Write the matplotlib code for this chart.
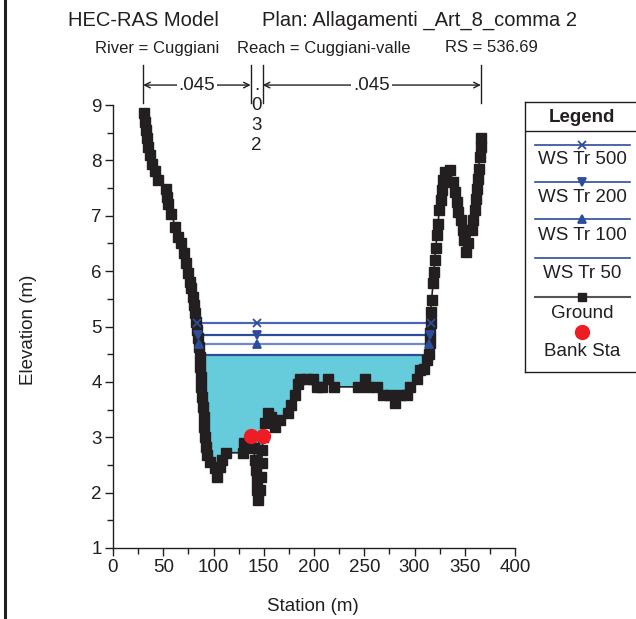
import numpy as np
import matplotlib
matplotlib.use("Agg")
import matplotlib.pyplot as plt
from matplotlib.lines import Line2D

plt.rcParams["font.family"] = ["Liberation Sans", "DejaVu Sans"]

# Ground profile (station m, elevation m)
station = [31, 32, 33, 33.5, 34.5, 37, 39, 42, 44.5, 53, 54, 55, 58, 62, 65, 68, 71, 72.5,
           74.5, 76.5, 78, 80, 81, 82, 83, 84, 85, 86, 86.5, 87, 87.5, 88, 88.5, 89.5,
           90.5, 91, 91.5, 92.5, 94, 96.5, 101, 103, 106.5, 108, 112, 129.5, 130.5, 136,
           140, 141, 142, 143, 143.5, 144.5, 146, 147, 148, 148.5, 149.5, 151, 154.5,
           157.5, 161, 166, 174, 177.5, 181, 184, 186.5, 193, 199.5, 202.5, 207.5,
           214, 220, 244, 251, 254, 262.5, 269, 275.5, 281, 286, 292.5, 295.5, 302,
           305.5, 309, 312, 314, 315, 315.5, 316, 316, 317, 318.5, 319.5, 320, 321,
           322.5, 323.5, 324.5, 326, 327, 328.5, 330, 335, 338.5, 340, 342, 343.5, 346,
           348, 349.5, 351, 353.5, 357, 358.5, 360, 361, 362, 363, 364, 365, 366, 366]
elevation = [8.86, 8.70, 8.55, 8.40, 8.24, 8.09, 7.94, 7.80, 7.65, 7.49, 7.34, 7.22, 7.04,
             6.80, 6.62, 6.50, 6.32, 6.14, 5.96, 5.81, 5.69, 5.54, 5.39, 5.24, 5.08, 4.93,
             4.79, 4.63, 4.45, 4.27, 4.09, 3.91, 3.73, 3.55, 3.37, 3.19, 3.01, 2.83, 2.68,
             2.56, 2.44, 2.29, 2.47, 2.59, 2.72, 2.72, 2.89, 2.89, 2.80, 2.59, 2.41, 2.23,
             2.05, 1.87, 2.05, 2.29, 2.53, 2.77, 3.01, 3.25, 3.43, 3.37, 3.19, 3.31, 3.43,
             3.58, 3.76, 3.97, 4.06, 4.06, 4.06, 3.91, 3.91, 4.06, 3.91, 3.91, 4.06, 3.91,
             3.91, 3.76, 3.76, 3.61, 3.76, 3.76, 3.91, 4.06, 4.21, 4.24, 4.39, 4.51, 4.70,
             4.88, 5.06, 5.27, 5.48, 5.78, 5.99, 6.20, 6.41, 6.65, 6.86, 7.10, 7.28, 7.46,
             7.64, 7.79, 7.82, 7.61, 7.43, 7.25, 7.07, 6.92, 6.74, 6.56, 6.35, 6.50, 6.74,
             6.92, 7.10, 7.31, 7.49, 7.67, 7.85, 8.06, 8.24, 8.40]

# Water surfaces
ws_names = ["WS Tr 500", "WS Tr 200", "WS Tr 100", "WS Tr 50"]
ws_elev = [5.06, 4.85, 4.68, 4.48]
ws_markers = ["x", "v", "^", None]
ws_colors = ["#4A66B4", "#2C4C9C", "#6F88C8", "#2C4C9C"]

# Bank stations
bank_sta = [137, 149]
bank_elev = [3.02, 3.02]

# Manning's n regions
n_values = [".045", ".032", ".045"]

sta = np.array(station, dtype=float)
elev = np.array(elevation, dtype=float)


def crossings(level):
    xs = []
    for i in range(len(sta) - 1):
        y0, y1 = elev[i] - level, elev[i + 1] - level
        if y0 == 0:
            xs.append(sta[i])
        elif y0 * y1 < 0:
            xs.append(sta[i] + (sta[i + 1] - sta[i]) * y0 / (y0 - y1))
    return min(xs), max(xs)


fig = plt.figure(figsize=(6.36, 6.19), dpi=100)
W, H = 636.0, 619.0
ax = fig.add_axes([113 / W, 1 - 548 / H, 402 / W, 443 / H])

ink = "#231F20"

# water fill for lowest profile
ax.fill_between(sta, elev, ws_elev[-1], where=elev <= ws_elev[-1], interpolate=True,
                color="#66CCDB", lw=0, zorder=1)

mid = np.mean(bank_sta)
for name, z, m, c in zip(ws_names, ws_elev, ws_markers, ws_colors):
    xl, xr = crossings(z)
    ax.plot([xl, mid, xr], [z, z, z], color=c, lw=1.6, zorder=2)

ax.plot(sta, elev, color=ink, lw=1.2, marker="s", ms=6.8, mec=ink, mfc=ink, zorder=3)

for name, z, m, c in zip(ws_names, ws_elev, ws_markers, ws_colors):
    if m is None:
        continue
    xl, xr = crossings(z)
    ax.plot([xl, mid, xr], [z, z, z], ls="none", marker=m, ms=6, color="#2C4C9C",
            mew=1.3, zorder=4)

ax.plot(bank_sta, bank_elev, ls="none", marker="o", ms=10, color="#EE1C24", zorder=5)

ax.set_xlim(0, 400)
ax.set_ylim(1, 9)
ax.set_xticks(np.arange(0, 401, 50))
ax.set_xticks(np.arange(25, 400, 50), minor=True)
ax.set_yticks(np.arange(1, 10, 1))
ax.set_yticks(np.arange(1.5, 9, 1), minor=True)
ax.tick_params(which="major", direction="out", length=6, width=1, color=ink,
               labelsize=13.5, labelcolor=ink, pad=2)
ax.tick_params(which="minor", direction="out", length=4, width=1, color=ink)
for s in ["top", "right"]:
    ax.spines[s].set_visible(False)
for s in ["left", "bottom"]:
    ax.spines[s].set_color(ink)
    ax.spines[s].set_linewidth(1)

ax.set_xlabel("Station (m)", fontsize=13.5, color=ink)
ax.xaxis.set_label_coords(0.4975, -0.112)
ax.set_ylabel("Elevation (m)", fontsize=13.5, color=ink)
ax.yaxis.set_label_coords(-0.19, 0.492)

# Manning's n brackets above the plot
tr = ax.get_xaxis_transform()
edges = [station[0] - 1, bank_sta[0], bank_sta[1], station[-1]]
for x in edges:
    ax.plot([x, x], [1.005, 1.09], color=ink, lw=1, transform=tr, clip_on=False)
for (x0, x1), n in zip([(edges[0], edges[1]), (edges[2], edges[3])], [n_values[0], n_values[2]]):
    ax.annotate("", xy=(x0, 1.045), xytext=(x1, 1.045), xycoords=tr, textcoords=tr,
                arrowprops=dict(arrowstyle="<->", color=ink, lw=1, shrinkA=0, shrinkB=0))
    ax.text((x0 + x1) / 2, 1.045, n, transform=tr, ha="center", va="center",
            fontsize=13.5, color=ink, bbox=dict(fc="white", ec="none", pad=1.5))
for ch, ypx in zip(n_values[1], [86, 106, 125, 145]):
    ax.text(mid, (548 - ypx) / 443, ch, transform=tr, ha="center", va="center",
            fontsize=13.5, color=ink)

# titles
fig.text(68 / W, 1 - 20 / H, "HEC-RAS Model", fontsize=14.5, color=ink, va="center")
fig.text(262 / W, 1 - 20 / H, "Plan: Allagamenti _Art_8_comma 2", fontsize=14.5,
         color=ink, va="center")
fig.text(95 / W, 1 - 48 / H, "River = Cuggiani", fontsize=12, color=ink, va="center")
fig.text(237 / W, 1 - 48 / H, "Reach = Cuggiani-valle", fontsize=12, color=ink, va="center")
fig.text(445 / W, 1 - 48 / H, "RS = 536.69", fontsize=12, color=ink, va="center")

# left border line
fig.add_artist(Line2D([5 / W, 5 / W], [0, 1], transform=fig.transFigure, color=ink, lw=2.2))

# legend box
lg = fig.add_axes([525 / W, 1 - 372 / H, 115 / W, 270 / H])
lg.set_xlim(525, 640)
lg.set_ylim(372, 102)
lg.set_xticks([])
lg.set_yticks([])
for s in lg.spines.values():
    s.set_color(ink)
    s.set_linewidth(1)
lg.text(582, 117, "Legend", ha="center", va="center", fontsize=13.5, weight="bold", color=ink)
lg.axhline(131, color=ink, lw=1)
line_y = [145, 182, 219, 258]
text_y = [160, 198, 236, 274]
for name, m, ly, ty in zip(ws_names, ws_markers, line_y, text_y):
    lg.plot([535, 630], [ly, ly], color="#2C4C9C", lw=1.2)
    if m is not None:
        lg.plot([582], [ly], marker=m, ms=6, color="#2C4C9C", mew=1.3)
    lg.text(582, ty, name, ha="center", va="center", fontsize=13.5, color=ink)
lg.plot([535, 630], [297, 297], color="#555555", lw=1.5)
lg.plot([582], [297], marker="s", ms=6, color=ink)
lg.text(582, 313, "Ground", ha="center", va="center", fontsize=13.5, color=ink)
lg.plot([582], [332], marker="o", ms=10, color="#EE1C24")
lg.text(582, 351, "Bank Sta", ha="center", va="center", fontsize=13.5, color=ink)

fig.savefig("out.png", dpi=100)
